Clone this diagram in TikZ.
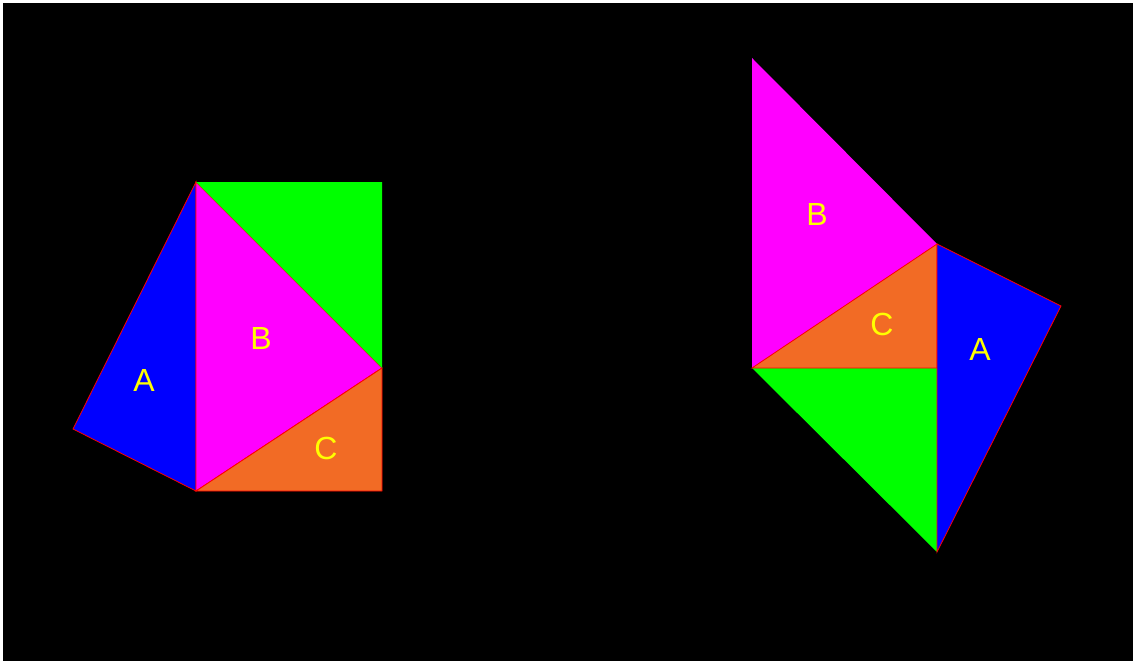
\documentclass[tikz,border=0pt]{standalone}
\usepackage{fontspec}
\setmainfont{Liberation Sans}
\definecolor{pmag}{RGB}{255,0,255}
\definecolor{pgreen}{RGB}{0,255,0}
\definecolor{pblue}{RGB}{0,0,255}
\definecolor{porange}{RGB}{242,107,37}
\definecolor{plabel}{RGB}{255,255,0}
\definecolor{pedge}{RGB}{255,0,0}
\begin{document}
\begin{tikzpicture}[x=1pt,y=-1pt,
  piece/.style={draw=pedge,line width=0.8pt,line join=miter},
  flat/.style={draw=none},
  lab/.style={text=plabel,font=\fontsize{32}{32}\selectfont,inner sep=0pt}]
\useasboundingbox (0,0) rectangle (1133,661);
\fill[white] (0,0) rectangle (1133,661);
\fill[black] (3,3) rectangle (1133,661);
% left figure
\fill[pblue,piece] (196,182) -- (73,429) -- (196,491) -- cycle;
\fill[pmag,piece] (196,182) -- (382,368) -- (196,491) -- cycle;
\fill[porange,piece] (196,491) -- (382,368) -- (382,491) -- cycle;
\fill[pgreen,flat] (196,182) -- (382,182) -- (382,368) -- cycle;
\node[lab] (la) at (144,380) {A};
\node[lab] (lb) at (261,338) {B};
\node[lab] (lc) at (326,448) {C};
% right figure
\fill[pmag,flat] (752,58) -- (937,244) -- (752,368) -- cycle;
\fill[pgreen,flat] (752,368) -- (937,368) -- (937,552) -- cycle;
\fill[porange,piece] (752,368) -- (937,244) -- (937,368) -- cycle;
\fill[pblue,piece] (937,244) -- (1061,306) -- (937,552) -- cycle;
\node[lab] (rb) at (817,214) {B};
\node[lab] (rc) at (882,324) {C};
\node[lab] (ra) at (980,349) {A};
\end{tikzpicture}
\end{document}
